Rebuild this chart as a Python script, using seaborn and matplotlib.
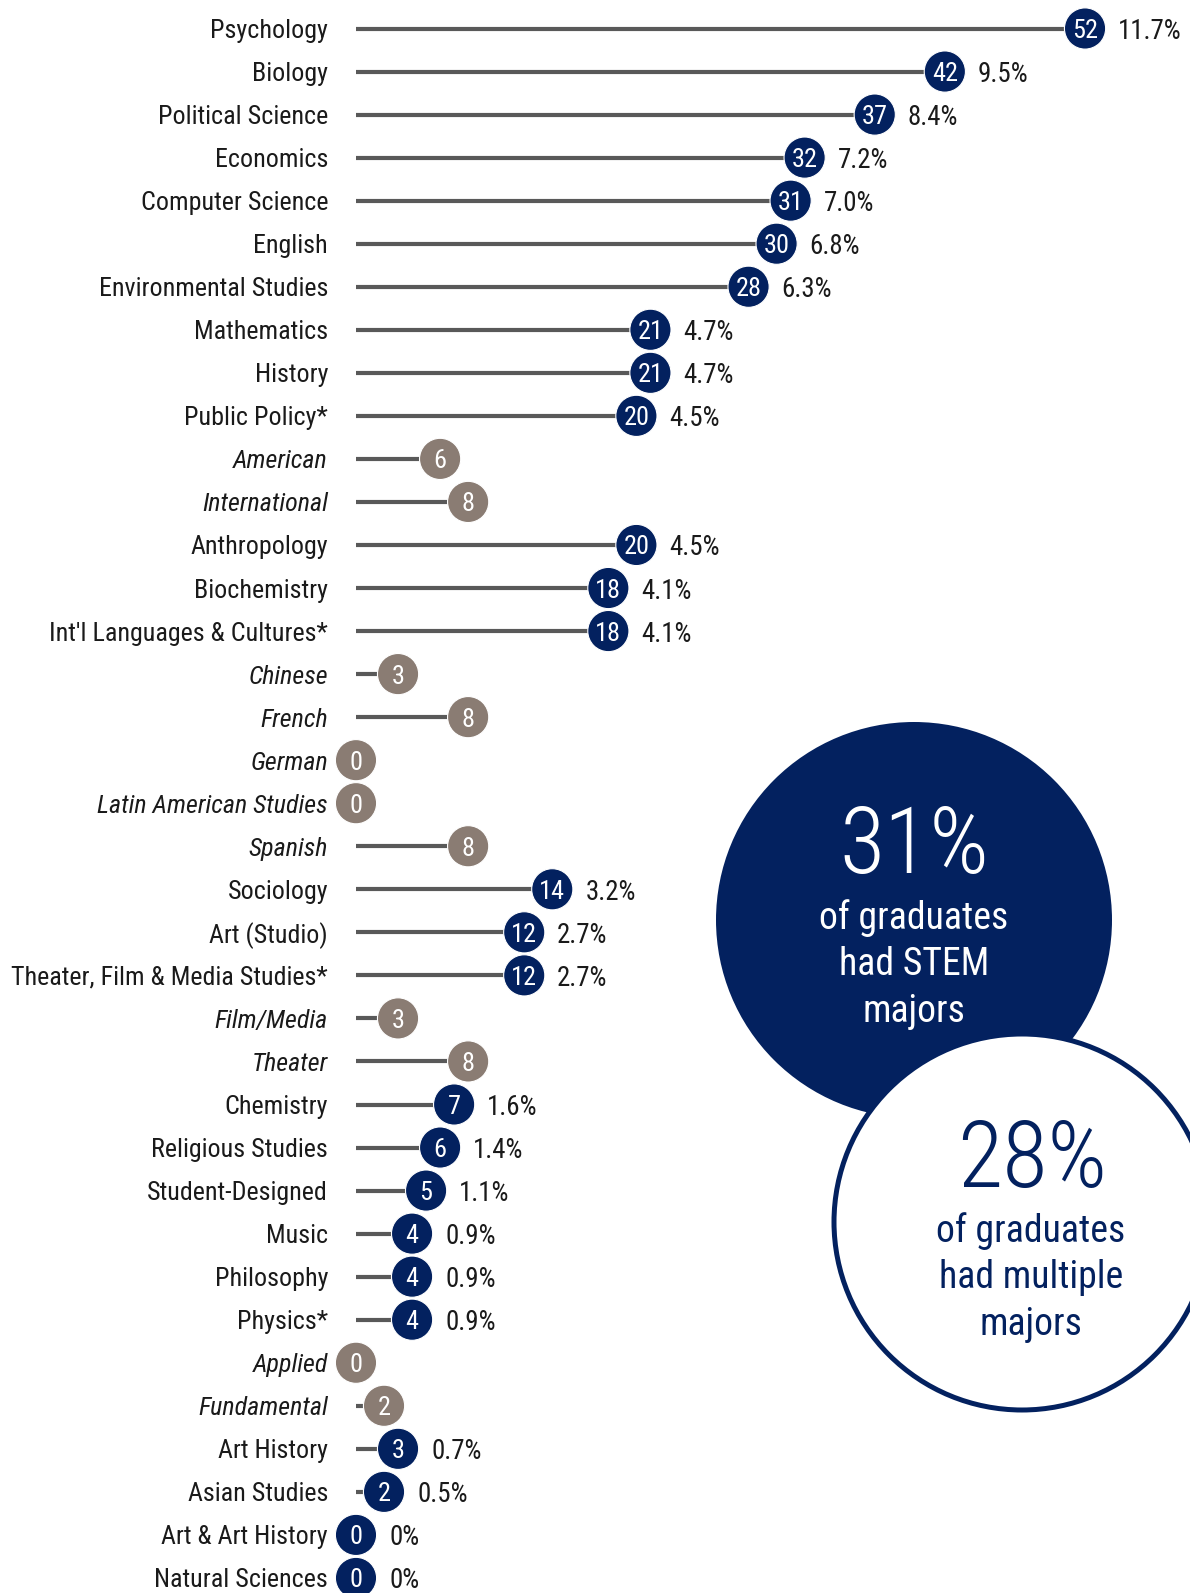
import matplotlib
matplotlib.use("Agg")
import matplotlib.pyplot as plt
from matplotlib import font_manager
import seaborn as sns
import pandas as pd
import numpy as np
from matplotlib.patches import Circle

# ---------------- data ----------------
majors = ["Psychology", "Biology", "Political Science", "Economics", "Computer Science",
          "English", "Environmental Studies", "Mathematics", "History", "Public Policy*",
          "American", "International", "Anthropology", "Biochemistry",
          "Int'l Languages & Cultures*", "Chinese", "French", "German",
          "Latin American Studies", "Spanish", "Sociology", "Art (Studio)",
          "Theater, Film & Media Studies*", "Film/Media", "Theater", "Chemistry",
          "Religious Studies", "Student-Designed", "Music", "Philosophy", "Physics*",
          "Applied", "Fundamental", "Art History", "Asian Studies", "Art & Art History",
          "Natural Sciences"]
counts = [52, 42, 37, 32, 31, 30, 28, 21, 21, 20, 6, 8, 20, 18, 18, 3, 8, 0, 0, 8,
          14, 12, 12, 3, 8, 7, 6, 5, 4, 4, 4, 0, 2, 3, 2, 0, 0]
percents = ["11.7%", "9.5%", "8.4%", "7.2%", "7.0%", "6.8%", "6.3%", "4.7%", "4.7%", "4.5%",
            "", "", "4.5%", "4.1%", "4.1%", "", "", "", "", "",
            "3.2%", "2.7%", "2.7%", "", "", "1.6%", "1.4%", "1.1%", "0.9%", "0.9%", "0.9%",
            "", "", "0.7%", "0.5%", "0%", "0%"]
is_sub = [False]*10 + [True, True] + [False]*3 + [True]*5 + [False]*3 + [True, True] + \
         [False]*6 + [True, True] + [False]*4

stem_title = "31%"
stem_lines = ["of graduates", "had STEM", "majors"]
multi_title = "28%"
multi_lines = ["of graduates", "had multiple", "majors"]

# ---------------- style ----------------
NAVY = "#03215F"
GRAY = "#8A7C73"
STEM = "#595959"
TXT = "#1a1a1a"

sns.set_theme(style="white")

# find a condensed sans if one is installed
def _is_cond(f):
    n = f.name.lower()
    st = f.stretch
    if "narrow" in n or "condensed" in n:
        return True
    if isinstance(st, str):
        return "condensed" in st
    try:
        return int(st) < 500
    except Exception:
        return False

prefs = [("Liberation Sans Narrow", 1.0), ("Arial Narrow", 1.0), ("Roboto Condensed", 0.97),
         ("Open Sans Condensed", 0.97), ("Noto Sans", 0.93), ("DejaVu Sans", 0.86),
         ("Roboto", 0.97), ("Open Sans", 0.93)]
FAM, SF, STRETCH = "Liberation Sans", 0.86, "normal"
for name, sf in prefs:
    if any(f.name == name and _is_cond(f) for f in font_manager.fontManager.ttflist):
        FAM, SF, STRETCH = name, sf, "condensed"
        break
plt.rcParams["font.family"] = [FAM, "DejaVu Sans"]
plt.rcParams["font.stretch"] = STRETCH

df = pd.DataFrame({"major": majors, "count": counts, "pct": percents, "sub": is_sub})
df["row"] = np.arange(len(df))
df["kind"] = np.where(df["sub"], "sub", "major")

W, H = 1190, 1593
fig = plt.figure(figsize=(W/100, H/100), dpi=100)
ax = fig.add_axes([0, 0, 1, 1])

x0_px, unit_px = 356, 14.02
y0_px, row_px = 28.5, 43.04
ax.set_xlim(-x0_px/unit_px, (W - x0_px)/unit_px)
ax.set_ylim((H - y0_px)/row_px, -y0_px/row_px)
ax.axis("off")

# stems
ax.hlines(df["row"], 0, df["count"], color=STEM, linewidth=3.0, zorder=1)

# circles
sns.scatterplot(data=df, x="count", y="row", hue="kind",
                palette={"major": NAVY, "sub": GRAY}, s=880,
                edgecolor="white", linewidth=0.8, legend=False, ax=ax, zorder=3)

lab_x = (328 - x0_px)/unit_px
pct_off = 33/unit_px
for _, r in df.iterrows():
    ax.text(lab_x, r["row"], r["major"], ha="right", va="center_baseline",
            fontsize=19.3*SF, color=TXT, fontstretch=STRETCH,
            style="italic" if r["sub"] else "normal", zorder=4)
    ax.text(r["count"], r["row"], str(r["count"]), ha="center", va="center_baseline",
            fontsize=19.5*SF, color="white", fontstretch=STRETCH, zorder=5)
    if r["pct"]:
        ax.text(r["count"] + pct_off, r["row"], r["pct"], ha="left", va="center_baseline",
                fontsize=20*SF, color=TXT, fontstretch=STRETCH, zorder=4)

# big callout circles in pixel coordinates
ax2 = fig.add_axes([0, 0, 1, 1])
ax2.set_xlim(0, W)
ax2.set_ylim(H, 0)
ax2.axis("off")
ax2.patch.set_alpha(0)

ax2.add_patch(Circle((914, 920), 198, facecolor=NAVY, edgecolor="none", zorder=1))
ax2.add_patch(Circle((1022, 1222), 188, facecolor="white", edgecolor=NAVY,
                     linewidth=3.6, zorder=2))

ax2.text(914, 873, stem_title, ha="center", va="baseline", fontsize=69*SF,
         fontweight="light", color="white", fontstretch=STRETCH, zorder=3)
for line, yb in zip(stem_lines, [929, 975, 1022]):
    ax2.text(914, yb, line, ha="center", va="baseline", fontsize=28*SF,
             color="white", fontstretch=STRETCH, zorder=3)

ax2.text(1032, 1187, multi_title, ha="center", va="baseline", fontsize=69*SF,
         fontweight="light", color=NAVY, fontstretch=STRETCH, zorder=3)
for line, yb in zip(multi_lines, [1242, 1288, 1335]):
    ax2.text(1031, yb, line, ha="center", va="baseline", fontsize=28*SF,
             color=NAVY, fontstretch=STRETCH, zorder=3)

fig.savefig("out.png", dpi=100)
